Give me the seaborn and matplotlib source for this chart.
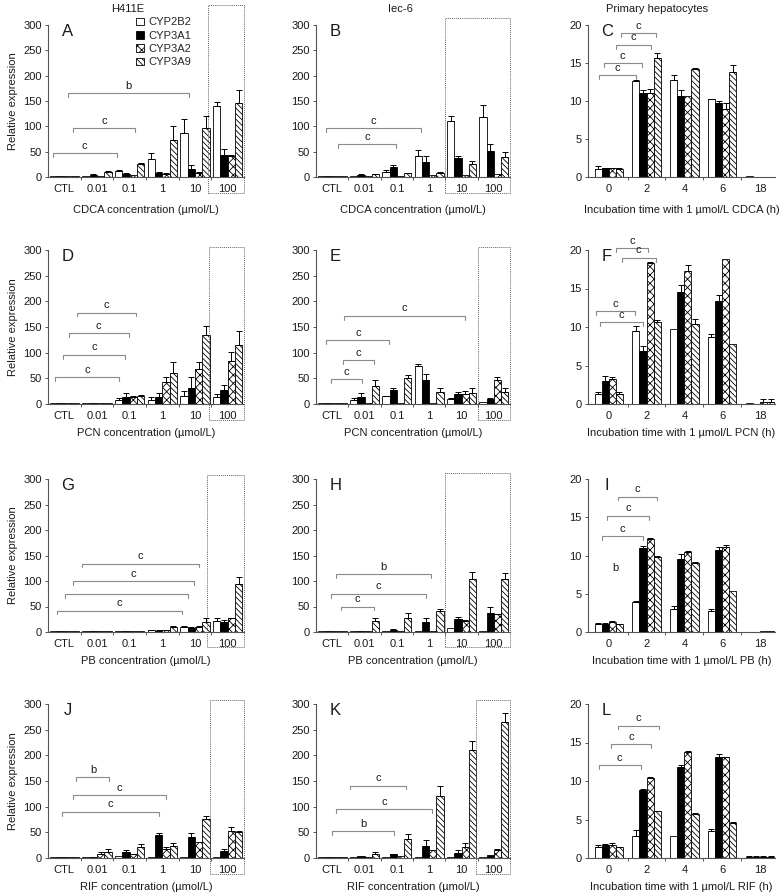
import matplotlib
matplotlib.use('Agg')
import matplotlib.pyplot as plt
import matplotlib.transforms as mtransforms
from matplotlib.patches import Rectangle
from matplotlib.ticker import FixedLocator
import numpy as np
import pandas as pd
import seaborn as sns

genes = ['CYP2B2', 'CYP3A1', 'CYP3A2', 'CYP3A9']
conc = ['CTL', '0.01', '0.1', '1', '10', '100']
hours = ['0', '2', '4', '6', '18']

# H411E / CDCA
A_mean = [[1, 1, 1, 2], [2, 4, 2, 10], [12, 6, 3, 25], [35, 8, 6, 73], [87, 16, 7, 97], [141, 43, 42, 146]]
A_err = [[0, 0, 0, 0], [0, 1, 0, 2], [2, 1, 0, 3], [12, 2, 2, 28], [27, 7, 2, 23], [8, 13, 1, 26]]
# Iec-6 / CDCA
B_mean = [[1, 1, 1, 2], [2, 4, 1, 5], [10, 19, 2, 7], [42, 30, 3, 8], [111, 37, 3, 25], [119, 52, 5, 40]]
B_err = [[0, 0, 0, 0], [0, 1, 0, 1], [3, 4, 0, 1], [12, 12, 0, 2], [10, 5, 0, 6], [23, 14, 0, 9]]
# primary / CDCA
C_mean = [[1.1, 1.2, 1.2, 1.1], [12.6, 11.0, 11.0, 15.6], [12.8, 10.6, 10.6, 14.2], [10.2, 9.7, 8.9, 13.8], [0.1, 0.05, 0.05, 0.05]]
C_err = [[0.3, 0.05, 0.05, 0.05], [0.1, 0.4, 0.6, 0.7], [0.6, 0.9, 0, 0.1], [0.1, 0.3, 0.9, 1.0], [0, 0, 0, 0]]
# H411E / PCN
D_mean = [[1, 1, 2, 1], [1, 2, 2, 2], [8, 14, 14, 15], [8, 14, 42, 61], [16, 31, 68, 134], [13, 27, 84, 114]]
D_err = [[0, 0, 0, 0], [0, 0, 0, 0], [4, 8, 2, 2], [5, 7, 11, 20], [10, 21, 14, 17], [6, 10, 18, 28]]
# Iec-6 / PCN
E_mean = [[1, 1, 1, 1], [8, 14, 1, 35], [15, 28, 1, 50], [75, 47, 1, 23], [9, 19, 19, 22], [4, 10, 47, 23]]
E_err = [[0, 0, 0, 0], [4, 8, 0, 11], [1, 3, 0, 7], [2, 12, 0, 9], [2, 5, 7, 10], [0, 1, 5, 9]]
# primary / PCN
F_mean = [[1.3, 3.0, 3.3, 1.3], [9.5, 6.9, 18.3, 10.7], [9.8, 14.6, 17.3, 10.4], [8.7, 13.4, 18.8, 7.8], [0.1, 0.05, 0.2, 0.2]]
F_err = [[0.3, 0.6, 0.2, 0.2], [0.6, 0.6, 0.2, 0.2], [0, 0.8, 0.7, 0.6], [0.4, 0.8, 0, 0], [0, 0, 0.5, 0.5]]
# H411E / PB
G_mean = [[1, 1, 1, 1], [1, 1, 1, 1], [1, 1, 1, 1], [3, 2, 3, 10], [10, 8, 10, 19], [21, 19, 27, 95]]
G_err = [[0, 0, 0, 0], [0, 0, 0, 0], [0, 0, 0, 0], [1, 1, 1, 2], [1, 2, 1, 8], [7, 4, 1, 12]]
# Iec-6 / PB
H_mean = [[1, 1, 1, 1], [1, 2, 1, 21], [1, 4, 1, 28], [1, 20, 2, 42], [7, 25, 22, 104], [2, 38, 35, 104]]
H_err = [[0, 0, 0, 0], [0, 0, 0, 6], [0, 1, 0, 10], [0, 8, 0, 3], [0, 5, 1, 13], [0, 11, 1, 11]]
# primary / PB
I_mean = [[1.1, 1.1, 1.3, 1.0], [3.9, 11.0, 12.1, 9.8], [3.0, 9.5, 10.5, 9.0], [2.7, 10.7, 11.1, 5.3], [0.05, 0.05, 0.15, 0.1]]
I_err = [[0.1, 0.05, 0.1, 0.05], [0.2, 0.2, 0.2, 0.2], [0.4, 0.7, 0.1, 0.1], [0.3, 0.4, 0.3, 0], [0, 0, 0, 0]]
# H411E / RIF
J_mean = [[1, 1, 1, 1], [1, 2, 8, 12], [3, 11, 7, 22], [1, 45, 18, 24], [1, 41, 32, 76], [1, 13, 52, 50]]
J_err = [[0, 0, 0, 0], [0, 0, 3, 5], [0, 4, 1, 6], [0, 3, 4, 5], [0, 7, 0, 5], [0, 5, 9, 2]]
# Iec-6 / RIF
K_mean = [[1, 1, 1, 1], [1, 3, 1, 8], [1, 7, 4, 37], [1, 24, 15, 121], [1, 10, 22, 210], [1, 5, 15, 264]]
K_err = [[0, 0, 0, 0], [0, 0, 0, 4], [0, 1, 0, 9], [0, 11, 0, 19], [0, 5, 8, 18], [0, 0, 3, 18]]
# primary / RIF
L_mean = [[1.4, 1.7, 1.7, 1.4], [2.9, 8.8, 10.4, 6.1], [2.8, 11.8, 13.8, 5.7], [3.5, 13.1, 13.1, 4.6], [0.1, 0.1, 0.1, 0.1]]
L_err = [[0.3, 0.1, 0.2, 0.05], [0.8, 0.1, 0.1, 0.05], [0, 0.3, 0.05, 0.1], [0.3, 0.4, 0.05, 0.1], [0.2, 0.2, 0.2, 0.2]]

# significance brackets: (from, to, height, label)
A_sig = [(-0.35, 1.6, 47, 'c'), (0.27, 2.15, 97, 'c'), (0.12, 3.83, 166, 'b')]
B_sig = [(-0.19, 2.76, 97, 'c'), (0.18, 1.98, 65, 'c')]
C_sig = [(-0.26, 0.71, 13.4, 'c'), (-0.13, 0.87, 15.0, 'c'), (0.19, 1.11, 17.4, 'c'), (0.32, 1.24, 18.9, 'c')]
D_sig = [(-0.28, 1.67, 52, 'c'), (-0.04, 1.85, 96, 'c'), (0.13, 1.98, 138, 'c'), (0.39, 2.19, 178, 'c')]
E_sig = [(-0.03, 0.92, 49, 'c'), (0.32, 1.3, 85, 'c'), (-0.18, 1.77, 125, 'c'), (0.38, 4.1, 172, 'c')]
F_sig = [(-0.23, 0.9, 10.6, 'c'), (-0.34, 0.69, 12.1, 'c'), (0.34, 1.24, 19.0, 'c'), (0.19, 1.03, 20.2, 'c')]
G_sig = [(-0.22, 3.6, 42, 'c'), (0.02, 3.8, 75, ''), (0.26, 3.98, 100, 'c'), (0.53, 4.13, 134, 'c')]
H_sig = [(0.28, 1.3, 50, 'c'), (-0.03, 2.9, 75, 'c'), (0.12, 3.07, 114, 'b')]
I_sig = [(-0.18, 0.9, 12.5, 'c'), (-0.05, 1.06, 15.2, 'c'), (0.24, 1.27, 17.7, 'c')]
J_sig = [(-0.06, 2.9, 90, 'c'), (0.28, 3.1, 122, 'c'), (0.37, 1.38, 158, 'b')]
K_sig = [(0.0, 1.91, 52, 'b'), (0.12, 3.1, 95, 'c'), (0.55, 2.29, 141, 'c')]
L_sig = [(-0.26, 0.84, 12.1, 'c'), (0.05, 1.13, 14.8, 'c'), (0.24, 1.32, 17.2, 'c')]

colors = {'CYP2B2': 'white', 'CYP3A1': 'black', 'CYP3A2': 'white', 'CYP3A9': 'white'}
hatches = ['', '', 'xxxx', '\\\\\\\\\\\\']

sns.set_style('ticks')
plt.rcParams['font.family'] = ['Liberation Sans', 'DejaVu Sans']
plt.rcParams['hatch.linewidth'] = 0.6
FS = 8
TXT = '#1a1a1a'

W, H = 784, 893
fig = plt.figure(figsize=(W / 100, H / 100), dpi=100)
col_left = [48, 316, 588]
col_width = [196, 194, 187]
row_top = [25, 250, 479, 704]
row_bot = [177, 404, 632, 858]

panels = [
    ('A', A_mean, A_err, A_sig, 'CDCA', (4.4, 5.5, 1.13, -0.105)),
    ('B', B_mean, B_err, B_sig, 'CDCA', (3.5, 5.5, 1.046, -0.105)),
    ('C', C_mean, C_err, C_sig, 'CDCA', None),
    ('D', D_mean, D_err, D_sig, 'PCN', (4.42, 5.5, 1.02, -0.104)),
    ('E', E_mean, E_err, E_sig, 'PCN', (4.5, 5.5, 1.02, -0.104)),
    ('F', F_mean, F_err, F_sig, 'PCN', None),
    ('G', G_mean, G_err, G_sig, 'PB', (4.38, 5.5, 1.026, -0.098)),
    ('H', H_mean, H_err, H_sig, 'PB', (3.5, 5.5, 1.04, -0.098)),
    ('I', I_mean, I_err, I_sig, 'PB', None),
    ('J', J_mean, J_err, J_sig, 'RIF', (4.47, 5.5, 1.026, -0.104)),
    ('K', K_mean, K_err, K_sig, 'RIF', (4.45, 5.5, 1.026, -0.104)),
    ('L', L_mean, L_err, L_sig, 'RIF', None),
]

for i, (letter, mean, err, sig, drug, box) in enumerate(panels):
    row, col = divmod(i, 3)
    ax = fig.add_axes([col_left[col] / W, 1 - row_bot[row] / H,
                       col_width[col] / W, (row_bot[row] - row_top[row]) / H])
    primary = col == 2
    cats = hours if primary else conc
    top = 20 if primary else 300

    df = pd.DataFrame({'cat': np.repeat(cats, 4),
                       'gene': genes * len(cats),
                       'val': np.ravel(mean)})
    sns.barplot(data=df, x='cat', y='val', hue='gene', order=cats, hue_order=genes,
                palette=colors, saturation=1, width=0.75 if primary else 0.9,
                edgecolor='black', linewidth=0.6, errorbar=None, legend=False, ax=ax)
    bar_conts = list(ax.containers)

    # hatches + one-sided error bars
    errs = np.array(err)
    for gi, cont in enumerate(bar_conts):
        xs, ys, es = [], [], []
        for bar in cont.patches:
            bar.set_hatch(hatches[gi])
            xc = bar.get_x() + bar.get_width() / 2
            e = errs[int(round(xc)), gi]
            if e > 0:
                xs.append(xc)
                ys.append(bar.get_height())
                es.append(e)
        if xs:
            ax.errorbar(xs, ys, yerr=[np.zeros(len(es)), es], fmt='none', ecolor='black',
                        elinewidth=0.7, capsize=2, capthick=0.7)

    # significance brackets
    t = top * 0.025
    for x0, x1, y, lab in sig:
        ax.plot([x0, x0, x1, x1], [y - t, y, y, y - t], color='#8a8a8a', lw=0.8, clip_on=False)
        if lab:
            ax.text((x0 + x1) / 2, y + top * 0.015, lab, ha='center', va='bottom',
                    fontsize=FS, color=TXT, clip_on=False)
    if letter == 'I':
        ax.text(0.18, 8.4, 'b', ha='center', va='center', fontsize=FS, color=TXT)

    # dotted box around the high-dose groups
    if box is not None:
        x0, x1, yt, yb = box
        trans = mtransforms.blended_transform_factory(ax.transData, ax.transAxes)
        ax.add_patch(Rectangle((x0, yb), x1 - x0, yt - yb, transform=trans, fill=False,
                               ls=(0, (1, 1)), lw=0.7, ec='#666666', clip_on=False))

    ax.set_ylim(0, top)
    ax.set_yticks(np.linspace(0, top, 5 if primary else 7))
    ax.set_xlim((-0.55, 4.4) if primary else (-0.5, 5.5))
    ax.xaxis.set_minor_locator(FixedLocator(np.arange(len(cats) - 1) + 0.5))
    ax.tick_params(axis='x', which='major', length=0, pad=5, labelsize=FS, labelcolor=TXT)
    ax.tick_params(axis='x', which='minor', length=2, width=0.7, color='#555555')
    ax.tick_params(axis='y', length=2.5, width=0.7, color='#555555', labelsize=FS, labelcolor=TXT, pad=2)
    sns.despine(ax=ax)
    for s in ['left', 'bottom']:
        ax.spines[s].set_color('#555555')
        ax.spines[s].set_linewidth(0.8)

    if primary:
        xl = 'Incubation time with 1 µmol/L ' + drug + ' (h)'
    else:
        xl = drug + ' concentration (µmol/L)'
    ax.set_xlabel(xl, fontsize=FS, color=TXT, labelpad=8 if row == 0 else 5)
    if col == 0:
        ax.set_ylabel('Relative expression', fontsize=FS, color=TXT, labelpad=4)
    else:
        ax.set_ylabel('')

    ax.text(0.1, 0.96, letter, transform=ax.transAxes, ha='center', va='center',
            fontsize=12, color=TXT)

    if letter == 'A':
        ax.legend(bar_conts, genes, loc='upper left', bbox_to_anchor=(0.45, 1.05),
                  frameon=False, fontsize=FS, handlelength=0.7, handleheight=0.7,
                  handletextpad=0.4, labelspacing=0.3, borderpad=0, borderaxespad=0)

fig.text(128 / W, 1 - 9 / H, 'H411E', ha='center', va='center', fontsize=FS, color=TXT)
fig.text(400 / W, 1 - 9 / H, 'Iec-6', ha='center', va='center', fontsize=FS, color=TXT)
fig.text(657 / W, 1 - 9 / H, 'Primary hepatocytes', ha='center', va='center', fontsize=FS, color=TXT)

fig.savefig('out.png', dpi=100)
